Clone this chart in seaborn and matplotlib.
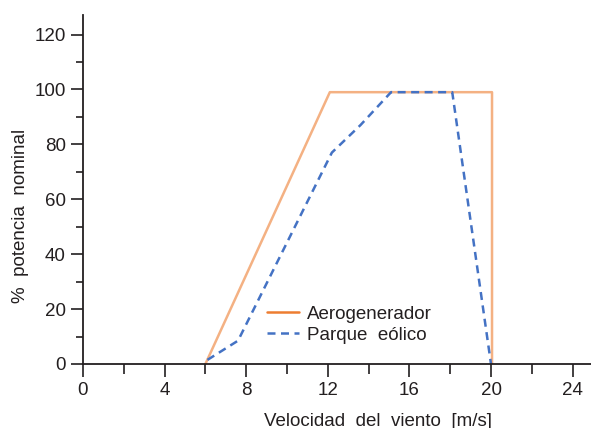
import matplotlib
matplotlib.use("Agg")
import matplotlib.pyplot as plt
from matplotlib.lines import Line2D
from matplotlib.ticker import MultipleLocator
import seaborn as sns
import pandas as pd

# Power curve of a single turbine vs. the whole wind farm
turbine_speed = [6.0, 12.1, 20.05, 20.05]
turbine_power = [0, 99, 99, 0]
farm_speed = [6.1, 7.6, 12.2, 13.6, 15.1, 18.1, 20.0]
farm_power = [1.5, 8.5, 77, 87, 99, 99, 0]

series_labels = ["Aerogenerador", "Parque  eólico"]
x_ticks = [0, 4, 8, 12, 16, 20, 24]
y_ticks = [0, 20, 40, 60, 80, 100, 120]

orange = "#ED7D31"
orange_light = "#F4B183"
blue = "#4472C4"
ink = "#231F20"

sns.set_theme(style="ticks")
plt.rcParams["font.family"] = ["Liberation Sans", "DejaVu Sans"]
plt.rcParams["text.color"] = ink
plt.rcParams["axes.labelcolor"] = ink
plt.rcParams["xtick.color"] = ink
plt.rcParams["ytick.color"] = ink

fig = plt.figure(figsize=(5.91, 4.28), dpi=100)
W, H = 591, 428
left, right, top, bottom = 83, 591, 15.3, 364
ax = fig.add_axes([left / W, 1 - bottom / H, (right - left) / W, (bottom - top) / H])

turbine = pd.DataFrame({"v": turbine_speed, "p": turbine_power})
farm = pd.DataFrame({"v": farm_speed, "p": farm_power})

sns.lineplot(data=turbine, x="v", y="p", ax=ax, estimator=None, sort=False,
             color=orange_light, linewidth=1.8)
sns.lineplot(data=farm, x="v", y="p", ax=ax, estimator=None, sort=False,
             color=blue, linewidth=1.8, linestyle=(0, (3.2, 2.2)))

ax.set_xlim(0, (right - left) / 20.4)
ax.set_ylim(0, 127)
ax.set_xticks(x_ticks)
ax.set_yticks(y_ticks)
ax.xaxis.set_minor_locator(MultipleLocator(2))
ax.yaxis.set_minor_locator(MultipleLocator(10))
ax.tick_params(axis="x", which="major", length=9, width=1.2, labelsize=13.5, pad=4)
ax.tick_params(axis="x", which="minor", length=7, width=1.2)
ax.tick_params(axis="y", which="major", length=8.5, width=1.2, labelsize=13.5, pad=4)
ax.tick_params(axis="y", which="minor", length=5, width=1.2)

sns.despine(ax=ax)
for side in ("left", "bottom"):
    ax.spines[side].set_linewidth(1.3)
    ax.spines[side].set_color(ink)

ax.set_xlabel("Velocidad  del  viento  [m/s]", fontsize=13.5)
ax.set_ylabel("%  potencia  nominal", fontsize=13.5)
ax.xaxis.label.set_verticalalignment("center")
ax.yaxis.label.set_verticalalignment("center")
ax.xaxis.set_label_coords((377.5 - left) / (right - left), -(421 - bottom) / (bottom - top))
ax.yaxis.set_label_coords(-(left - 21) / (right - left), (bottom - 216) / (bottom - top))

handles = [
    Line2D([], [], color=orange, linewidth=1.8),
    Line2D([], [], color=blue, linewidth=1.8, linestyle=(0, (3.2, 2.2))),
]
ax.legend(handles, series_labels, frameon=False, loc="center left",
          bbox_to_anchor=((267 - left) / (right - left), (bottom - 324.5) / (bottom - top)),
          borderpad=0, borderaxespad=0, handlelength=1.7, handletextpad=0.45,
          labelspacing=0.2, fontsize=13.5)

fig.savefig("out.png", dpi=100)
